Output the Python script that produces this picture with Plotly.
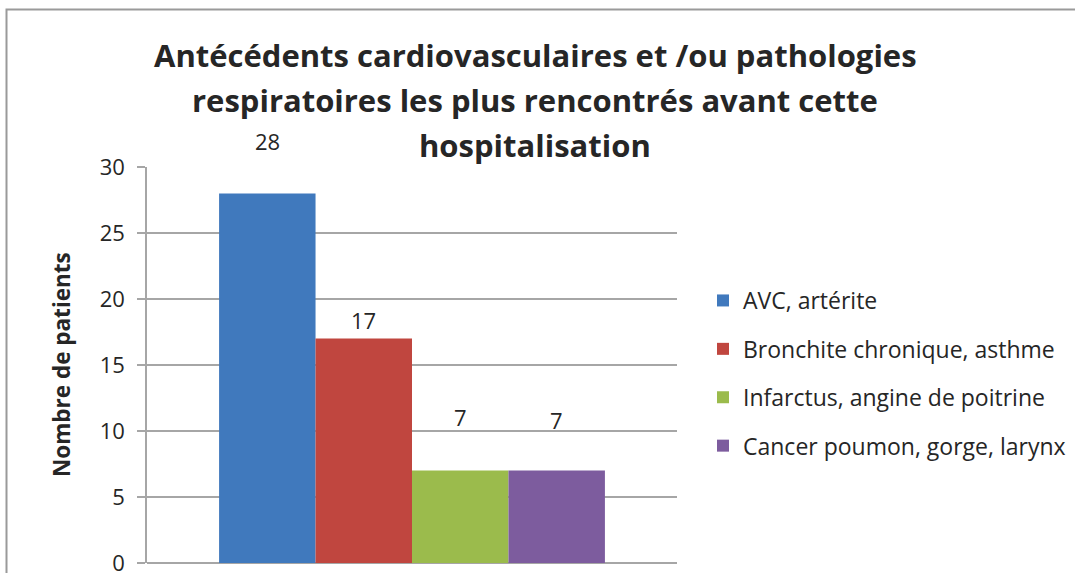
import plotly.graph_objects as go

# ---- data ----
categories = ["AVC, artérite", "Bronchite chronique, asthme",
              "Infarctus, angine de poitrine", "Cancer poumon, gorge, larynx"]
values = [28, 17, 7, 7]
colors = ["#4079BD", "#C0463F", "#9BBB4C", "#7D5C9E"]
title_lines = ["Antécédents cardiovasculaires et /ou pathologies",
               "respiratoires les plus rencontrés avant cette",
               "hospitalisation"]
y_title = "Nombre de patients"
y_ticks = [0, 5, 10, 15, 20, 25, 30]

# ---- style ----
FONT = "'Open Sans', Lato, sans-serif"
TXT = "#262626"
GRID = "#A6A6A6"
W, H = 1075, 573
ML, MR, MT, MB = 147, 398, 167, 10
BARGAP = 0.272
label_shift = [52, 19, 54, 51]  # vertical offset of value labels (px)

fig = go.Figure()
for name, v, c in zip(categories, values, colors):
    fig.add_trace(go.Bar(x=[""], y=[v], name=name, marker_color=c,
                         marker_line_width=0, legendgroup=name))

n = len(values)
bw = (1 - BARGAP) / n
annotations = []
for i, v in enumerate(values):
    xc = -(1 - BARGAP) / 2 + (i + 0.5) * bw
    annotations.append(dict(x=xc, y=v, xref="x", yref="y", text=str(v),
                            showarrow=False, yshift=label_shift[i],
                            yanchor="middle",
                            font=dict(family=FONT, size=22, color=TXT)))

pw = W - ML - MR
ph = H - MT - MB
def px_x(p):
    return (p - ML) / pw
def px_y(p):
    return (H - MB - p) / ph

title_y = [55, 100, 145]
for t, yy in zip(title_lines, title_y):
    annotations.append(dict(x=px_x(535), y=px_y(yy), xref="paper", yref="paper",
                            text="<b>" + t + "</b>", showarrow=False,
                            xanchor="center", yanchor="middle",
                            font=dict(family=FONT, size=31, color=TXT)))

annotations.append(dict(x=px_x(61), y=px_y(365), xref="paper", yref="paper",
                        text="<b>" + y_title + "</b>", textangle=-90,
                        showarrow=False, xanchor="center", yanchor="middle",
                        font=dict(family=FONT, size=22.5, color=TXT)))

fig.update_layout(
    width=W, height=H,
    margin=dict(l=ML, r=MR, t=MT, b=MB, autoexpand=False),
    paper_bgcolor="white", plot_bgcolor="white",
    barmode="group", bargap=BARGAP,
    showlegend=True,
    legend=dict(x=px_x(703), y=px_y(279), xanchor="left", yanchor="top",
                font=dict(family=FONT, size=23, color=TXT),
                tracegroupgap=15.5, itemclick=False),
    annotations=annotations,
    shapes=[dict(type="rect", xref="paper", yref="paper",
                 x0=px_x(6.5), x1=px_x(1200), y0=px_y(700), y1=px_y(9.5),
                 line=dict(color="#9A9A9A", width=2), layer="below")],
    xaxis=dict(showticklabels=False, showgrid=False, zeroline=False,
               showline=False, ticks=""),
    yaxis=dict(range=[0, 30], tickvals=y_ticks, showgrid=True, gridcolor=GRID,
               gridwidth=1.5, zeroline=True, zerolinecolor=GRID, zerolinewidth=1.5,
               showline=True, linecolor=GRID, linewidth=1.5,
               ticks="outside", ticklen=8, tickcolor=GRID, tickwidth=1.5,
               ticklabelstandoff=8, ticklabeloverflow="allow",
               tickfont=dict(family=FONT, size=22, color=TXT)),
)

fig.write_html("out.html", config={"displayModeBar": False},
               post_script="document.body.style.margin='0';")
